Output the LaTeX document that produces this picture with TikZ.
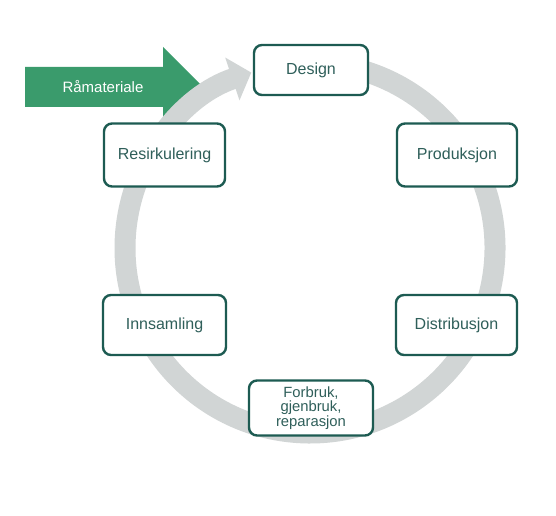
\documentclass[tikz,border=0pt]{standalone}
\usepackage{fontspec}
\setmainfont{Liberation Sans}
\usetikzlibrary{arrows.meta}
\definecolor{boxborder}{HTML}{1D5B52}
\definecolor{boxtext}{HTML}{2F5F5A}
\definecolor{greenarrow}{HTML}{3A9B6C}
\definecolor{ringgray}{HTML}{D1D5D5}
\tikzset{
  stagebox/.style={draw=boxborder, line width=2.4pt, rounded corners=8pt, fill=white,
    text=boxtext, font=\fontsize{16}{15}\selectfont, align=center, inner sep=0pt},
  ringarrow/.style={draw=ringgray, line width=21pt, -{Triangle[length=20pt,width=44pt]}},
}
\begin{document}
\begin{tikzpicture}[x=1pt,y=1pt]
\useasboundingbox[fill=white] (0,0) rectangle (556,515);
% green input arrow
\fill[greenarrow] (25,448) -- (163,448) -- (163,468) -- (203,428) -- (163,388) -- (163,408) -- (25,408) -- cycle;
\node[text=white, font=\fontsize{15}{15}\selectfont] (ram) at (103,428) {Råmateriale};
% ring
\coordinate (c) at (310,267);
\draw[ringarrow] (c) ++(85:185) arc[start angle=85, end angle=-251.5, radius=185];
% stages
\node[stagebox, minimum width=114pt, minimum height=50pt] (design) at (311,445) {Design};
\node[stagebox, minimum width=120pt, minimum height=63pt] (prod) at (457,360) {Produksjon};
\node[stagebox, minimum width=121pt, minimum height=63pt] (resirk) at (164.5,360) {Resirkulering};
\node[stagebox, minimum width=121pt, minimum height=60pt] (distr) at (456.5,190) {Distribusjon};
\node[stagebox, minimum width=123pt, minimum height=60pt] (inns) at (164.5,190) {Innsamling};
\node[stagebox, minimum width=124pt, minimum height=55pt, font=\fontsize{14.8}{14.8}\selectfont] (forbruk) at (311,107) {Forbruk,\\gjenbruk,\\reparasjon};
\end{tikzpicture}
\end{document}
